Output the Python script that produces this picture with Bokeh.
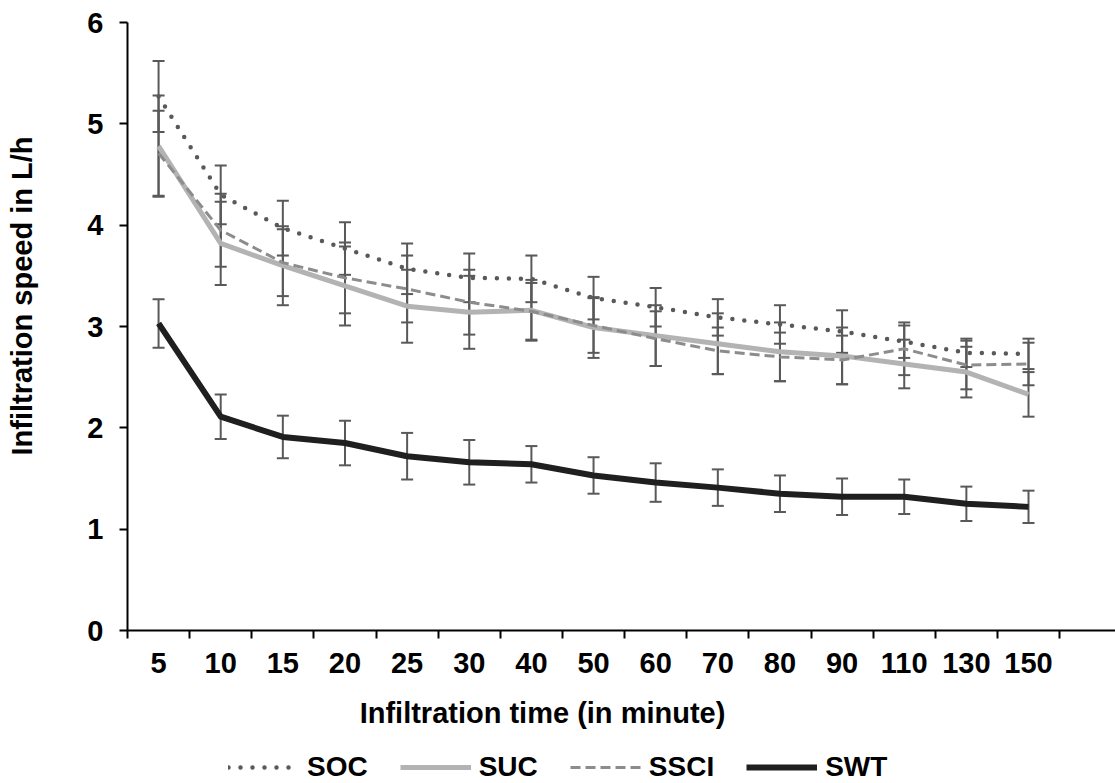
import numpy as np
from bokeh.plotting import figure
from bokeh.layouts import column
from bokeh.models import (ColumnDataSource, Whisker, TeeHead, FixedTicker, Range1d,
                          Legend, LegendItem, Title, Label, LinearAxis)
from bokeh.embed import file_html
from bokeh.resources import INLINE

# ---- data ----
times = ["5", "10", "15", "20", "25", "30", "40", "50", "60", "70", "80", "90", "110", "130", "150"]

soc_mean = [5.27, 4.30, 3.97, 3.77, 3.57, 3.48, 3.47, 3.28, 3.19, 3.09, 3.02, 2.95, 2.85, 2.74, 2.73]
soc_err = [0.35, 0.29, 0.27, 0.26, 0.25, 0.24, 0.23, 0.21, 0.19, 0.18, 0.19, 0.21, 0.16, 0.14, 0.15]

suc_mean = [4.78, 3.82, 3.60, 3.40, 3.20, 3.14, 3.16, 2.99, 2.91, 2.83, 2.75, 2.71, 2.63, 2.55, 2.33]
suc_err = [0.50, 0.41, 0.39, 0.39, 0.36, 0.36, 0.30, 0.30, 0.30, 0.30, 0.29, 0.28, 0.24, 0.25, 0.22]

ssci_mean = [4.71, 3.95, 3.63, 3.48, 3.37, 3.24, 3.15, 3.01, 2.88, 2.76, 2.70, 2.67, 2.78, 2.62, 2.63]
ssci_err = [0.42, 0.36, 0.33, 0.35, 0.33, 0.32, 0.28, 0.27, 0.27, 0.23, 0.24, 0.24, 0.26, 0.24, 0.21]

swt_mean = [3.03, 2.11, 1.91, 1.85, 1.72, 1.66, 1.64, 1.53, 1.46, 1.41, 1.35, 1.32, 1.32, 1.25, 1.22]
swt_err = [0.24, 0.22, 0.21, 0.22, 0.23, 0.22, 0.18, 0.18, 0.19, 0.18, 0.18, 0.18, 0.17, 0.17, 0.16]

y_ticks = [0, 1, 2, 3, 4, 5, 6]

# ---- figure ----
n = len(times)
x = np.arange(1, n + 1)

FONT = "Liberation Sans"
ERR_COLOR = "#595959"
STYLES = {
    "SOC": dict(line_color="#595959", line_width=4.5, line_dash="0 12", line_cap="round"),
    "SUC": dict(line_color="#b3b3b3", line_width=5, line_join="round"),
    "SSCI": dict(line_color="#8c8c8c", line_width=3, line_dash="10 5"),
    "SWT": dict(line_color="#1f1f1f", line_width=6, line_join="round"),
}

W = 1115
H_MAIN = 688
H_LEG = 95
LEFT = 127

p = figure(width=W, height=H_MAIN, output_backend="svg", toolbar_location=None,
           x_range=Range1d(0.5, 16.40), y_range=Range1d(0, 6),
           min_border_left=LEFT, min_border_right=0, min_border_top=22, min_border_bottom=58)
p.outline_line_color = None
p.grid.visible = False
p.background_fill_color = "white"

# x axis: labels at category centres, tick marks at slot boundaries
p.xaxis.ticker = FixedTicker(ticks=list(x), minor_ticks=list(np.arange(0.5, n + 1.5, 1.0)))
p.xaxis.major_label_overrides = {int(i): t for i, t in zip(x, times)}
p.xaxis.major_tick_line_color = None
p.xaxis.minor_tick_line_color = "black"
p.xaxis.minor_tick_line_width = 2
p.xaxis.minor_tick_out = 8
p.xaxis.minor_tick_in = 0
p.xaxis.axis_line_width = 2
p.xaxis.axis_line_color = "black"
p.xaxis.major_label_standoff = 14

# y axis
p.yaxis.ticker = FixedTicker(ticks=y_ticks)
p.yaxis.major_tick_out = 8
p.yaxis.major_tick_in = 0
p.yaxis.major_tick_line_width = 2
p.yaxis.major_tick_line_color = "black"
p.yaxis.minor_tick_line_color = None
p.yaxis.axis_line_width = 2
p.yaxis.axis_line_color = "black"
p.yaxis.major_label_standoff = 16

for ax in (p.xaxis, p.yaxis):
    ax.major_label_text_font = FONT
    ax.major_label_text_font_style = "bold"
    ax.major_label_text_font_size = "29px"
    ax.major_label_text_color = "black"

# ---- series ----
def src(mean, err):
    m = np.array(mean)
    e = np.array(err)
    return ColumnDataSource(dict(x=x, y=m, upper=m + e, lower=m - e))

sources = {
    "SOC": src(soc_mean, soc_err),
    "SUC": src(suc_mean, suc_err),
    "SSCI": src(ssci_mean, ssci_err),
    "SWT": src(swt_mean, swt_err),
}

for name, s in sources.items():
    p.line("x", "y", source=s, **STYLES[name])

for s in sources.values():
    w = Whisker(source=s, base="x", upper="upper", lower="lower", dimension="height",
                line_color=ERR_COLOR, line_width=2,
                upper_head=TeeHead(size=12, line_color=ERR_COLOR, line_width=2),
                lower_head=TeeHead(size=12, line_color=ERR_COLOR, line_width=2))
    p.add_layout(w)

# ---- y-axis title: an invisible spacer axis pushes it towards the left edge ----
spacer = LinearAxis(ticker=FixedTicker(ticks=[3]), major_tick_out=45, major_tick_in=0,
                    minor_tick_out=0, minor_tick_in=0, major_label_standoff=0,
                    major_label_overrides={3: ""},
                    axis_line_color=None, major_tick_line_color="white",
                    major_tick_line_alpha=0.0, minor_tick_line_color=None)
p.add_layout(spacer, "left")
ytitle = Title(text="Infiltration speed in L/h", align="left", offset=175,
               vertical_align="top", standoff=0, text_font=FONT, text_font_style="bold",
               text_font_size="29px", text_color="black")
p.add_layout(ytitle, "left")

# ---- bottom strip: x-axis title and legend ----
leg = figure(width=W, height=H_LEG, output_backend="svg", toolbar_location=None,
             x_range=Range1d(100, 101), y_range=Range1d(0, 1),
             x_axis_type=None, y_axis_type=None,
             min_border_left=LEFT, min_border_right=0, min_border_top=0, min_border_bottom=0)
leg.outline_line_color = None
leg.grid.visible = False

leg.add_layout(Label(x=415, y=71, x_units="screen", y_units="screen",
                     text="Infiltration time (in minute)", text_align="center",
                     text_baseline="middle", text_font=FONT, text_font_style="bold",
                     text_font_size="29px", text_color="black"))

items = []
for name, s in sources.items():
    r = leg.line("x", "y", source=s, **STYLES[name])
    items.append(LegendItem(label=name, renderers=[r]))

legend = Legend(items=items, orientation="horizontal", location=(101, 0),
                glyph_width=71, glyph_height=24, label_height=24, label_width=10,
                label_standoff=8, spacing=32, padding=0, margin=0,
                border_line_color=None, background_fill_alpha=0,
                label_text_font=FONT, label_text_font_style="bold",
                label_text_font_size="28px", label_text_color="black")
leg.add_layout(legend)

layout = column(p, leg, spacing=0)
open("out.html", "w").write(file_html(layout, INLINE))
